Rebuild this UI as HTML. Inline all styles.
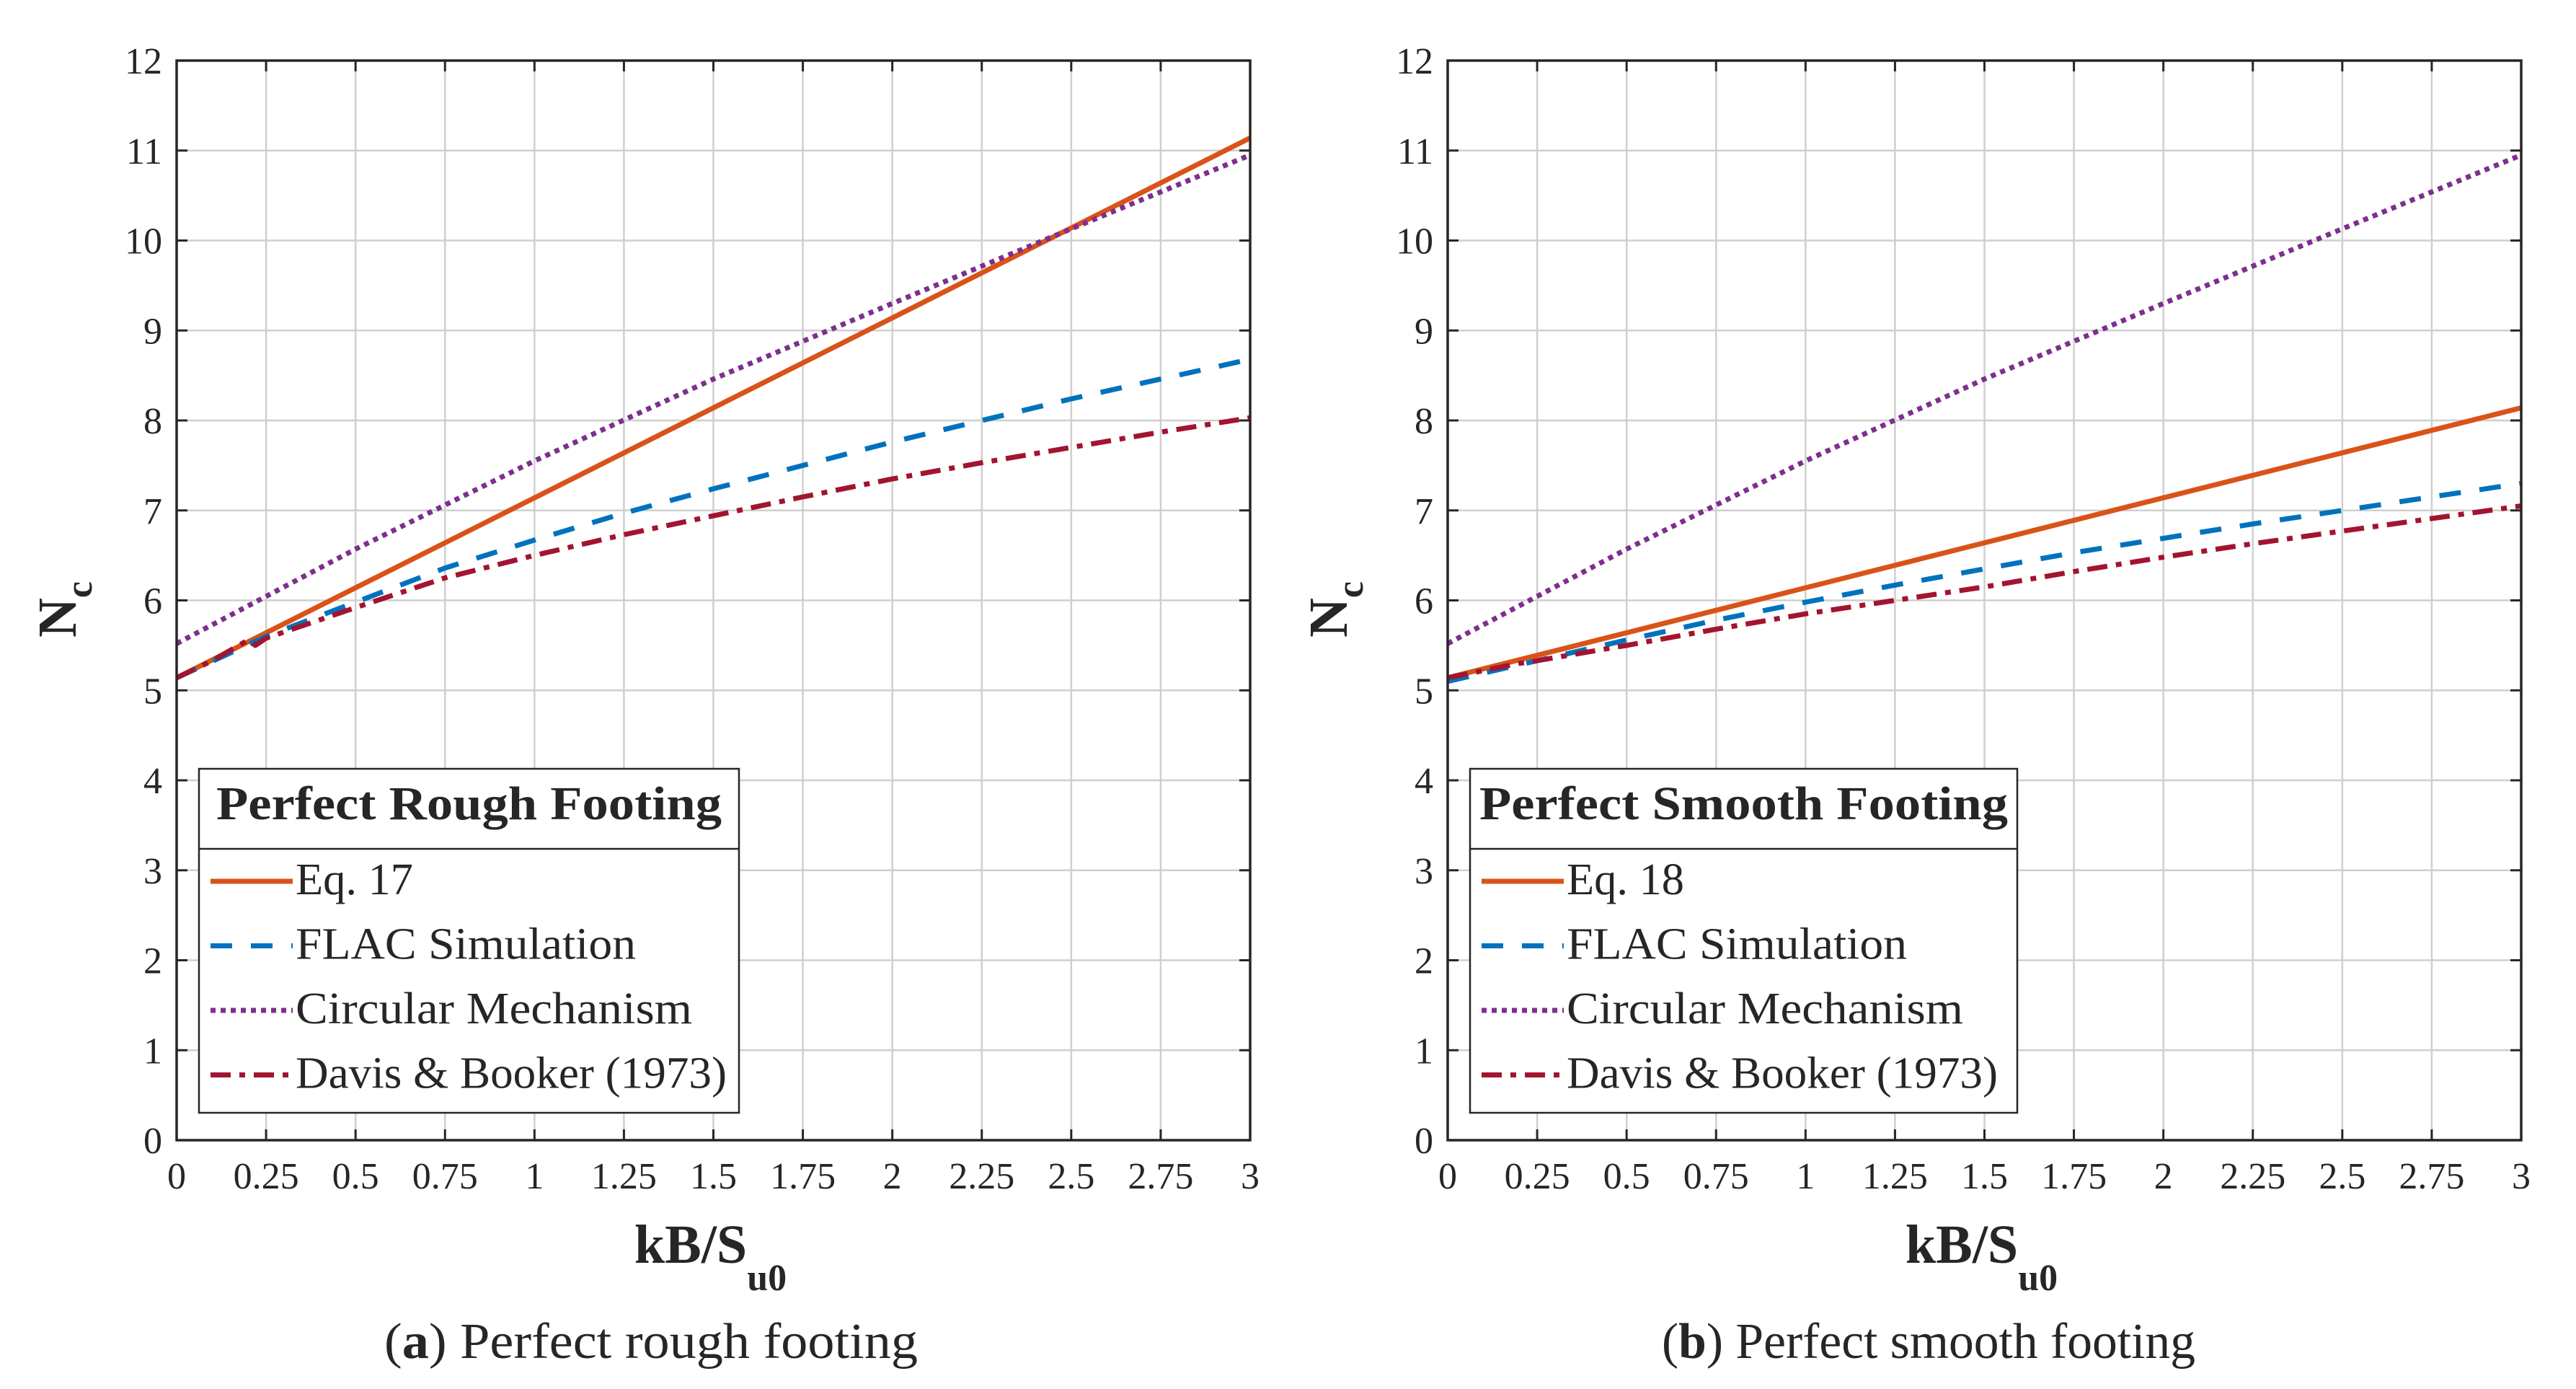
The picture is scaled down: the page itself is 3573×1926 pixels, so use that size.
<!DOCTYPE html>
<html><head><meta charset="utf-8"><style>
html,body{margin:0;padding:0;background:#fff}
svg{display:block}
text{font-family:"Liberation Serif",serif;fill:#262626}
</style></head><body>
<svg id="fig" width="3573" height="1926" viewBox="0 0 3573 1926" xmlns="http://www.w3.org/2000/svg"></svg>
<script>
const xTicks = [0,0.25,0.5,0.75,1,1.25,1.5,1.75,2,2.25,2.5,2.75,3];
const xTickLabels = ["0","0.25","0.5","0.75","1","1.25","1.5","1.75","2","2.25","2.5","2.75","3"];
const yTicks = [0,1,2,3,4,5,6,7,8,9,10,11,12];
const seriesNames = ["Eq. 17","FLAC Simulation","Circular Mechanism","Davis & Booker (1973)"];
const seriesNamesB = ["Eq. 18","FLAC Simulation","Circular Mechanism","Davis & Booker (1973)"];

const xEq = [0,3];
const roughEq = [5.14,11.14];
const smoothEq = [5.14,8.14];
const xCirc = [0,0.5,1,1.5,2,2.5,3];
const circ = [5.52,6.57,7.55,8.46,9.3,10.13,10.95];
const xFlac = [0,0.25,0.5,0.75,1,1.25,1.5,1.75,2,2.25,2.5,2.75,3];
const roughFlac = [5.14,5.6,5.98,6.36,6.67,6.97,7.24,7.5,7.76,8.0,8.24,8.46,8.68];
const smoothFlac = [5.1,5.33,5.56,5.78,5.98,6.17,6.35,6.53,6.69,6.85,7.0,7.15,7.3];
const xDavis = [0,0.1,0.2,0.22,0.25,0.5,0.75,1,1.25,1.5,1.75,2,2.25,2.5,2.75,3];
const roughDavis = [5.14,5.33,5.56,5.5,5.58,5.92,6.25,6.5,6.73,6.94,7.15,7.35,7.53,7.7,7.87,8.03];
const smoothDavis = [5.14,5.22,5.3,5.31,5.33,5.5,5.68,5.85,6.0,6.15,6.32,6.48,6.63,6.77,6.91,7.05];

const NS="http://www.w3.org/2000/svg";
const svg=document.getElementById('fig');
function mk(tag,attrs,parent){const e=document.createElementNS(NS,tag);for(const k in attrs)e.setAttribute(k,attrs[k]);if(tag==='text')e.setAttribute('font-family','Liberation Serif, serif');(parent||svg).appendChild(e);return e;}

const colors=["#D95319","#0072BD","#7E2F8E","#A2142F"];
const dashes=["none","30 26","7 7","28 12 8 12"];
const entryLen=[163,472,550,598];

function panel(ox, title, names, eqY, flacY, davisY, caption, capLetter, capX){
  const L=ox, R=ox+1489, T=84, B=1581;
  const g=mk('g',{});
  
  
  const sx=v=>L+(v/3)*(R-L);
  const sy=v=>B-(v/12)*(B-T);
  xTicks.forEach(t=>{const l=mk('line',{x1:sx(t),x2:sx(t),y1:T,y2:B,stroke:'#cfcfcf','stroke-width':2.5},g);
    
    });
  yTicks.forEach(t=>{const l=mk('line',{x1:L,x2:R,y1:sy(t),y2:sy(t),stroke:'#cfcfcf','stroke-width':2.5},g);
    
    });
  xTicks.forEach(t=>{mk('line',{x1:sx(t),x2:sx(t),y1:B,y2:B-15,stroke:'#262626','stroke-width':3},g);mk('line',{x1:sx(t),x2:sx(t),y1:T,y2:T+15,stroke:'#262626','stroke-width':3},g);});
  yTicks.forEach(t=>{mk('line',{x1:L,x2:L+15,y1:sy(t),y2:sy(t),stroke:'#262626','stroke-width':3},g);mk('line',{x1:R,x2:R-15,y1:sy(t),y2:sy(t),stroke:'#262626','stroke-width':3},g);});
  const data=[[xEq,eqY],[xFlac,flacY],[xCirc,circ],[xDavis,davisY]];
  data.forEach((d,i)=>{
    const pts=d[0].map((x,j)=>sx(x).toFixed(1)+','+sy(d[1][j]).toFixed(1)).join(' ');
    const p=mk('polyline',{points:pts,fill:'none',stroke:colors[i],'stroke-width':7,'stroke-dasharray':dashes[i],'stroke-linejoin':'round'},g);
    
    
  });
  const bx=mk('rect',{x:L,y:T,width:R-L,height:B-T,fill:'none',stroke:'#262626','stroke-width':3.5},g);
  
  
  xTicks.forEach((t,i)=>{const tx=mk('text',{x:sx(t),y:1648,'font-size':52,'text-anchor':'middle'},g);tx.textContent=xTickLabels[i];
    
    });
  yTicks.forEach(t=>{const tx=mk('text',{x:L-20,y:sy(t)+18,'font-size':52,'text-anchor':'end'},g);tx.textContent=String(t);
    
    });
  const xl=mk('text',{x:(L+R)/2-4,y:1751,'font-size':76,'font-weight':'bold','text-anchor':'middle'},g);
  xl.innerHTML='kB/S<tspan font-size="52" dy="38">u0</tspan>';
  
  
  const yl=mk('text',{x:0,y:0,'font-size':76,'font-weight':'bold','text-anchor':'middle',transform:'translate('+(L-140)+',845) rotate(-90)'},g);
  yl.innerHTML='N<tspan font-size="52" dy="22">c</tspan>';
  
  
  const lg=mk('g',{},g);
  
  
  const lx=L+31, lw=(capLetter==='a'?749:759);
  mk('rect',{x:lx,y:1066,width:lw,height:477,fill:'#fff',stroke:'#262626','stroke-width':2.5},lg);
  mk('line',{x1:lx,x2:lx+lw,y1:1177,y2:1177,stroke:'#262626','stroke-width':2.5},lg);
  const tt=mk('text',{x:lx+lw/2,y:1136,'font-size':66,'font-weight':'bold','text-anchor':'middle',fill:'#000',textLength:(capLetter==='a'?701:733),lengthAdjust:'spacingAndGlyphs'},lg);
  tt.textContent=title;
  
  
  names.forEach((n,i)=>{
    const cy=1222+i*89.5;
    mk('line',{x1:lx+16,x2:lx+130,y1:cy,y2:cy,stroke:colors[i],'stroke-width':7,'stroke-dasharray':dashes[i]},lg);
    const t=mk('text',{x:lx+134,y:cy+18,'font-size':62,fill:'#000',textLength:entryLen[i],lengthAdjust:'spacingAndGlyphs'},lg);
    t.textContent=n;
    
    
  });
  const c=mk('text',{x:capX,y:1883,'font-size':70,'text-anchor':'middle',fill:'#000',textLength:740,lengthAdjust:'spacingAndGlyphs'},g);
  c.innerHTML='(<tspan font-weight="bold">'+capLetter+'</tspan>) '+caption;
  
  
}
panel(245,"Perfect Rough Footing",seriesNames,roughEq,roughFlac,roughDavis,"Perfect rough footing","a",903);
panel(2008,"Perfect Smooth Footing",seriesNamesB,smoothEq,smoothFlac,smoothDavis,"Perfect smooth footing","b",2675);
</script>
</body></html>
